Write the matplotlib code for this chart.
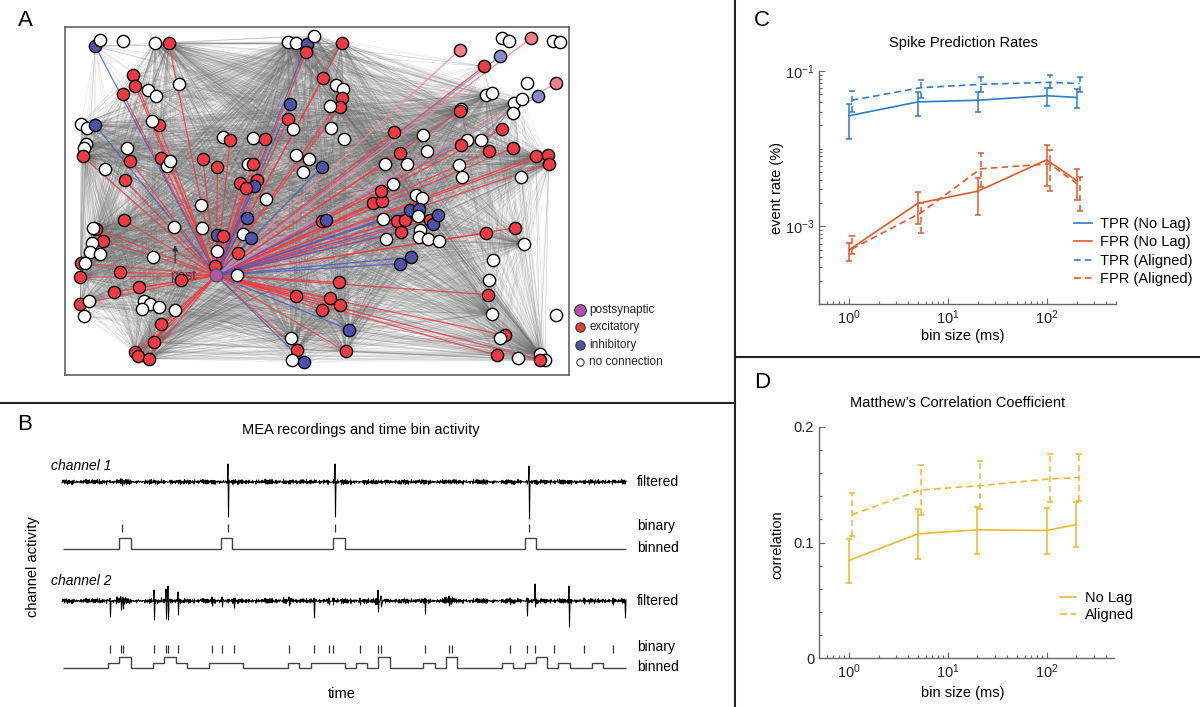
import numpy as np
import matplotlib
matplotlib.use('Agg')
import matplotlib.pyplot as plt
from matplotlib.collections import LineCollection
from matplotlib.lines import Line2D
from matplotlib.ticker import LogLocator, NullFormatter, FixedLocator, MultipleLocator

plt.rcParams['font.family'] = ['Liberation Sans', 'DejaVu Sans']
plt.rcParams['mathtext.fontset'] = 'custom'
plt.rcParams['mathtext.rm'] = 'Liberation Sans'
plt.rcParams['mathtext.it'] = 'Liberation Sans:italic'

# ---------------- DATA ----------------
# Panel C / D : bin sizes (ms)
bin_sizes = [1, 5, 20, 100, 200]
tpr_nolag = [0.0265, 0.040, 0.042, 0.048, 0.0457]
tpr_nolag_lo = [0.0133, 0.0265, 0.030, 0.0357, 0.0335]
tpr_nolag_hi = [0.038, 0.054, 0.054, 0.060, 0.058]
tpr_align = [0.042, 0.061, 0.0673, 0.0715, 0.069]
tpr_align_lo = [0.030, 0.045, 0.054, 0.060, 0.053]
tpr_align_hi = [0.0557, 0.0766, 0.083, 0.088, 0.083]
fpr_nolag = [0.000495, 0.00198, 0.00283, 0.00718, 0.00388]
fpr_nolag_lo = [0.00036, 0.00107, 0.00141, 0.00328, 0.00219]
fpr_nolag_hi = [0.00061, 0.0028, 0.0042, 0.0111, 0.00555]
fpr_align = [0.00051, 0.00149, 0.0055, 0.00637, 0.00335]
fpr_align_lo = [0.00044, 0.00082, 0.00318, 0.00283, 0.00159]
fpr_align_hi = [0.00074, 0.0020, 0.00883, 0.00975, 0.00429]
legend_C = ['TPR (No Lag)', 'FPR (No Lag)', 'TPR (Aligned)', 'FPR (Aligned)']

mcc_nolag = [0.0844, 0.1075, 0.111, 0.1104, 0.1156]
mcc_nolag_lo = [0.0648, 0.0853, 0.0899, 0.0899, 0.096]
mcc_nolag_hi = [0.1032, 0.1288, 0.131, 0.1303, 0.1354]
mcc_align = [0.1239, 0.1455, 0.1493, 0.155, 0.1562]
mcc_align_lo = [0.1052, 0.1242, 0.1291, 0.1349, 0.1363]
mcc_align_hi = [0.1427, 0.1671, 0.1703, 0.1764, 0.1767]
legend_D = ['No Lag', 'Aligned']

# Panel B : spike times (time axis in picture units), amplitudes
ch1_spike_t = [122, 228, 335, 529]
ch1_spike_up = [3, 18, 18, 16]
ch1_spike_down = [4, 35, 35, 37]
ch1_burst_t = [122, 300, 150]
ch1_burst_amp = [3.5, 3.0, 3.0]
ch1_binary = [122, 228, 335, 529]
ch1_binned = [0,0,0,0,0,1,0,0,0,0, 0,0,0,0,1,0,0,0,0,0, 0,0,0,0,1,0,0,0,0,0,
              0,0,0,0,0,0,0,0,0,0, 0,1,0,0,0,0,0,0,0,0]

ch2_spike_t = [110, 121, 123, 154, 166, 168, 178, 212, 222, 234, 289, 314, 329, 333,
               360, 378, 381, 425, 449, 510, 527, 535, 569, 584, 613, 625]
ch2_spike_up = [3, 4, 4, 11, 12, 15, 9, 4, 4, 3, 4, 3, 3, 3, 3, 11, 5, 3, 5, 3, 3, 17, 15, 3, 3, 0]
ch2_spike_down = [16, 9, 8, 19, 18, 19, 14, 5, 6, 7, 5, 17, 4, 4, 4, 11, 6, 13, 5, 4, 15, 6, 26, 3, 4, 17]
ch2_burst_t = [121, 166, 288, 380, 449, 530]
ch2_burst_amp = [5, 3.5, 4, 5, 5, 3.5]
ch2_binary = [110, 121, 123, 154, 166, 168, 178, 212, 222, 234, 289, 314, 329, 333, 360,
              378, 381, 425, 449, 452, 510, 527, 535, 554, 584, 613]
ch2_binned = [0,0,0,0,1,2,0,0,1,2, 1,0,0,1,1,1,0,0,0,0, 1,0,1,1,1,0,1,0,2,0,
              0,0,1,0,2,0,0,0,0,1, 0,1,2,0,1,0,0,1,0,0]

# hand-read texture of the filtered-signal noise band
noise_a = [0.3,-0.8,0.5,1.0,-0.4,-1.0,0.7,0.1,-0.6,0.9,-0.2,-0.9,0.4,0.8,-0.5,0.2,
           -0.7,1.0,-0.3,0.6,-1.0,0.5,0.0,-0.6,0.9,-0.4,0.3,-0.8,0.7,-0.1,0.6]
noise_b = [-0.5,0.4,0.9,-0.7,0.2,-0.3,0.8,-0.9,0.1,0.6,-0.4,-0.8,0.5,0.3,-0.6,1.0,
           -0.2,-0.5,0.7,0.0,-0.9,0.4,0.6]

# Panel A : network nodes (map coordinates) and type
node_x = [105,118,188,285,325,683,708,740,762,738,845,
          1200,1328,1348,1415,1480,1500,1320,1272,1490,1402,1435,
          218,225,188,262,288,355,790,828,850,845,840,810,
          690,685,700,812,853,1280,1297,1362,1388,1360,1205,1200,
          1328,1002,1088,1222,1265,1203,1288,1360,1428,1465,1468,
          1100,1020,1040,975,1198,1208,1385,1000,
          63,80,105,78,70,67,200,135,210,193,295,275,302,320,330,
          488,510,578,615,428,472,565,578,707,748,730,787,
          590,582,540,558,618,423,560,548,572,472,488,535,465,
          530,470,340,425,192,107,97,127,95,90,118,278,
          62,75,60,178,363,160,235,60,85,72,250,270,295,245,343,302,
          282,225,232,265,692,710,695,733,857,868,785,810,840,707,837,
          785,798,940,965,963,1068,1085,970,1010,1035,1022,1050,1078,1075,
          1110,1120,1133,1080,1078,1105,1138,978,1020,1052,1280,
          1365,1392,1300,1288,1285,1297,1488,1335,1320,1313,1375,1440,1455,1440]
node_y = [80,60,65,70,70,67,70,73,48,98,70,
          90,55,63,55,65,67,110,140,190,190,230,
          165,198,222,210,228,192,175,195,207,235,263,260,
          253,297,327,325,358,225,220,250,238,280,268,275,
          328,338,345,362,362,375,395,385,410,405,433,
          395,400,432,433,435,473,472,493,
          313,325,317,373,385,410,385,447,423,482,317,305,415,440,425,
          352,362,355,358,418,442,433,432,405,418,458,441,
          480,498,490,505,537,555,595,643,656,645,648,700,740,
          765,695,622,625,602,628,625,663,670,698,703,712,
          730,730,773,758,780,817,803,853,843,890,845,853,862,868,870,913,
          968,997,1010,1017,955,990,1022,1028,995,930,870,835,855,830,788,
          605,600,550,545,513,525,535,597,605,600,638,570,567,590,
          600,612,585,632,652,657,665,658,732,713,640,
          625,673,720,782,825,882,887,947,955,1007,1015,1002,1022,1020]
node_kind = ("INNNENNINEE" "eNNeNNiEeNi" "EEENNNENNEEN" "IENNNNNNNNNE" "EENNNEEEEEE"
             "NENNNNNN" "NNINNENNEEENENN" "NENEEENENNNI" "EIEENNINIIEEE"
             "NNNNEENENNNN" "ENEEEEEENNNNNNNE" "EEEENENIEIEEEEE" "EIEEENNNEEEIIN"
             "EIINNNNNIIE" "ENNNENNENENNNE")
post_x, post_y = 468, 767
hub_x = [285,325,683,708,740,762,845,63,78,67,107,95,62,60,60,225,265,282,692,710,
         857,1428,1468,1392,1362,1280,1440,1455,1088,840,1205,868,1297]
hub_y = [70,70,67,70,73,48,70,313,373,410,628,670,730,773,853,997,1017,968,955,990,
         995,410,433,673,250,225,1002,1022,345,263,268,930,882]
isolated_x = [118,188,1328,1348,1480,1500,1402,1488]
isolated_y = [60,65,55,63,65,67,190,887]
legend_A = ['postsynaptic', 'excitatory', 'inhibitory', 'no connection']

# ---------------- FIGURE ----------------
W, H = 1200, 707
fig = plt.figure(figsize=(12, 7.07), dpi=100)


def px_axes(x0, y0, x1, y1, **kw):
    return fig.add_axes([x0 / W, 1 - y1 / H, (x1 - x0) / W, (y1 - y0) / H], **kw)


BLUE = '#2F7CC6'
ORANGE = '#E4592B'
YELLOW = '#F0B730'
DASH = (0, (4, 2.5))

# ---------- Panel A ----------
axA = px_axes(65, 27, 569, 375)
axA.set_xlim(14, 1528)
axA.set_ylim(1066, 22)
axA.set_xticks([]); axA.set_yticks([])
for s in axA.spines.values():
    s.set_color('#555555'); s.set_linewidth(1.1)

nx = np.array(node_x, float); ny = np.array(node_y, float)
kinds = np.array(list(node_kind))
hub_idx = [int(np.argmin((nx - a) ** 2 + (ny - b) ** 2)) for a, b in zip(hub_x, hub_y)]
iso_idx = set(int(np.argmin((nx - a) ** 2 + (ny - b) ** 2)) for a, b in zip(isolated_x, isolated_y))
targets = [j for j in range(len(nx)) if kinds[j] not in ('e', 'i') and j not in iso_idx]
segs = []
for h in hub_idx:
    for j in targets:
        if j != h:
            segs.append([(nx[h], ny[h]), (nx[j], ny[j])])
axA.add_collection(LineCollection(segs, colors='#707070', linewidths=0.45, alpha=0.14, zorder=1))

col_line = {'E': ('#F23A42', 0.85), 'e': ('#F48A90', 0.9), 'I': ('#4F5CC0', 0.85), 'i': ('#8E95DA', 0.9)}
for k, (c, a) in col_line.items():
    sel = np.where(kinds == k)[0]
    s2 = [[(post_x, post_y), (nx[j], ny[j])] for j in sel]
    axA.add_collection(LineCollection(s2, colors=c, linewidths=0.9, alpha=a, zorder=2))

fill = {'N': 'white', 'E': '#EC3B42', 'e': '#F07F87', 'I': '#4C53A8', 'i': '#878CD0'}
for j in range(len(nx)):
    axA.scatter(nx[j], ny[j], s=78, c=fill[kinds[j]], edgecolors='black', linewidths=1.0,
                zorder=3, clip_on=False)
axA.scatter(post_x, post_y, s=85, c='#B352A8', edgecolors='#555555', linewidths=1.0, zorder=4)
axA.annotate('', xy=(345, 668), xytext=(345, 738),
             arrowprops=dict(arrowstyle='-|>', color='#333333', lw=0.9, mutation_scale=8), zorder=5)
axA.text(368, 768, 'post', fontsize=10, color='#444444', ha='center', va='center', zorder=2.5)

# ---------- Panel B ----------
axB = px_axes(0, 404, 734, 707)
axB.set_xlim(0, 734)
axB.set_ylim(707, 404)
axB.axis('off')

T0, T1 = 62, 626
BIN_X0, BIN_W, BIN_H = 63, 11.26, 11


def filtered(base, st, su, sd, bt, ba, amp0):
    t = np.arange(T0, T1 + 0.25, 0.5)
    idx = np.arange(len(t))
    amp = np.full(len(t), amp0)
    for c, a in zip(bt, ba):
        amp = np.where(np.abs(t - c) < 5, np.maximum(amp, a), amp)
    n = (np.take(noise_a, idx % len(noise_a)) + np.take(noise_b, idx % len(noise_b))) / 2 * amp
    y = n.copy()
    for c, u, d in zip(st, su, sd):
        i = min(int(round((c - T0) / 0.5)), len(t) - 2)
        y[i] = u
        y[i + 1] = -d
    return t, base - y


def draw_channel(name, base_f, base_bin, bin_top, st, su, sd, bt, ba, binary, binned, ylab):
    t, y = filtered(base_f, st, su, sd, bt, ba, 2.8)
    axB.plot(t, y, color='black', lw=0.75)
    axB.vlines(binary, bin_top, bin_top + 8, color='#333333', lw=0.9)
    vals = base_bin - np.array(binned, float) / max(binned) * BIN_H
    edges = BIN_X0 + BIN_W * np.arange(len(binned) + 1)
    axB.stairs(vals, edges, baseline=None, color='#444444', lw=1.0)
    axB.text(51, ylab, name, fontsize=10, style='italic', ha='left', va='center')
    axB.text(637, base_f, 'filtered', fontsize=10, ha='left', va='center')
    axB.text(637, bin_top + 2, 'binary', fontsize=10, ha='left', va='center')
    axB.text(637, base_bin - 1, 'binned', fontsize=10, ha='left', va='center')


draw_channel('channel 1', 482, 549, 524, ch1_spike_t, ch1_spike_up, ch1_spike_down,
             ch1_burst_t, ch1_burst_amp, ch1_binary, ch1_binned, 466)
draw_channel('channel 2', 601, 668, 645, ch2_spike_t, ch2_spike_up, ch2_spike_down,
             ch2_burst_t, ch2_burst_amp, ch2_binary, ch2_binned, 581)
axB.text(361, 430, 'MEA recordings and time bin activity', fontsize=10.5, ha='center', va='center')
axB.text(33, 567, 'channel activity', fontsize=10.5, rotation=90, ha='center', va='center')
axB.text(342, 694, 'time', fontsize=10.5, ha='center', va='center')


# ---------- Panel C / D helpers ----------
def style_axes(ax):
    for s in ['top', 'right']:
        ax.spines[s].set_visible(False)
    for s in ['left', 'bottom']:
        ax.spines[s].set_color('#666666'); ax.spines[s].set_linewidth(1.0)
    ax.tick_params(which='both', direction='in', color='#666666', labelcolor='#222222',
                   labelsize=10.5, width=0.8)
    ax.tick_params(which='major', length=4)
    ax.tick_params(which='minor', length=2)


def ebar(ax, x, y, lo, hi, color, dashed):
    y = np.array(y); lo = np.array(lo); hi = np.array(hi)
    ls = DASH if dashed else '-'
    cont = ax.errorbar(x, y, yerr=[y - lo, hi - y], color=color, lw=1.2, ls=ls,
                       capsize=2.3, capthick=1.1, elinewidth=1.1)
    if dashed:
        for c in cont[2]:
            c.set_linestyle(DASH)
    return cont


bx = np.array(bin_sizes, float)
dodge = 1.07

# ---------- Panel C ----------
axC = px_axes(819, 71, 1116, 304)
axC.set_xscale('log'); axC.set_yscale('log')
style_axes(axC)
ebar(axC, bx, tpr_nolag, tpr_nolag_lo, tpr_nolag_hi, BLUE, False)
ebar(axC, bx, fpr_nolag, fpr_nolag_lo, fpr_nolag_hi, ORANGE, False)
ebar(axC, bx * dodge, tpr_align, tpr_align_lo, tpr_align_hi, BLUE, True)
ebar(axC, bx * dodge, fpr_align, fpr_align_lo, fpr_align_hi, ORANGE, True)
axC.set_xlim(0.5, 500)
axC.set_ylim(1e-4, 1e-1)
axC.yaxis.set_major_locator(FixedLocator([1e-3, 1e-1]))
axC.yaxis.set_minor_locator(LogLocator(base=10, subs=np.arange(1, 10), numticks=20))
axC.yaxis.set_minor_formatter(NullFormatter())
axC.xaxis.set_major_locator(FixedLocator([1, 10, 100]))
axC.xaxis.set_minor_locator(LogLocator(base=10, subs=np.arange(2, 10), numticks=20))
axC.xaxis.set_minor_formatter(NullFormatter())
axC.set_xticklabels(['$10^{0}$', '$10^{1}$', '$10^{2}$'])
axC.set_yticklabels(['$10^{-3}$', '$10^{-1}$'])
hC = [Line2D([], [], color=BLUE, lw=1.2), Line2D([], [], color=ORANGE, lw=1.2),
      Line2D([], [], color=BLUE, lw=1.2, ls=DASH), Line2D([], [], color=ORANGE, lw=1.2, ls=DASH)]
axC.legend(hC, legend_C, loc='upper left', bbox_to_anchor=(1074 / W, 1 - 217 / H),
           bbox_transform=fig.transFigure, frameon=False, borderpad=0, borderaxespad=0,
           handlelength=1.25, handletextpad=0.55, labelspacing=0.3, fontsize=10.5)

# ---------- Panel D ----------
axD = px_axes(819, 427, 1114, 658)
axD.set_xscale('log')
style_axes(axD)
ebar(axD, bx, mcc_nolag, mcc_nolag_lo, mcc_nolag_hi, YELLOW, False)
ebar(axD, bx * dodge, mcc_align, mcc_align_lo, mcc_align_hi, YELLOW, True)
axD.set_xlim(0.5, 480)
axD.set_ylim(0, 0.2)
axD.yaxis.set_major_locator(FixedLocator([0, 0.1, 0.2]))
axD.yaxis.set_minor_locator(MultipleLocator(0.02))
axD.set_yticklabels(['0', '0.1', '0.2'])
axD.xaxis.set_major_locator(FixedLocator([1, 10, 100]))
axD.xaxis.set_minor_locator(LogLocator(base=10, subs=np.arange(2, 10), numticks=20))
axD.xaxis.set_minor_formatter(NullFormatter())
axD.set_xticklabels(['$10^{0}$', '$10^{1}$', '$10^{2}$'])
hD = [Line2D([], [], color=YELLOW, lw=1.2), Line2D([], [], color=YELLOW, lw=1.2, ls=DASH)]
axD.legend(hD, legend_D, loc='upper left', bbox_to_anchor=(1060 / W, 1 - 591 / H),
           bbox_transform=fig.transFigure, frameon=False, borderpad=0, borderaxespad=0,
           handlelength=1.1, handletextpad=0.6, labelspacing=0.22, fontsize=10.5)

# ---------- overlay: labels, dividers, legend A ----------
ov = px_axes(0, 0, W, H, zorder=10)
ov.set_xlim(0, W); ov.set_ylim(H, 0); ov.axis('off')
ov.plot([735, 735], [0, H], color='#222222', lw=1.5)
ov.plot([0, 735], [403, 403], color='#222222', lw=1.5)
ov.plot([735, W], [357, 357], color='#222222', lw=1.5)
for lab, (x, y) in zip('ABCD', [(25, 20), (25, 425), (762, 20), (762, 382)]):
    ov.text(x, y, lab, fontsize=16, ha='center', va='center')
ov.text(963, 43, 'Spike Prediction Rates', fontsize=10.5, ha='center', va='center')
ov.text(963, 336, 'bin size (ms)', fontsize=10.5, ha='center', va='center')
ov.text(777, 188, 'event rate (%)', fontsize=10.5, rotation=90, ha='center', va='center')
ov.text(958, 403, "Matthew\u2019s Correlation Coefficient", fontsize=10.5, ha='center', va='center')
ov.text(963, 693, 'bin size (ms)', fontsize=10.5, ha='center', va='center')
ov.text(777, 545, 'correlation', fontsize=10.5, rotation=90, ha='center', va='center')

legA_fill = ['#B352A8', '#EC3B42', '#4C53A8', 'white']
legA_size = [70, 45, 45, 28]
legA_y = [310, 327, 345, 362]
for lab, f, s, y in zip(legend_A, legA_fill, legA_size, legA_y):
    ov.scatter([580], [y], s=s, c=f, edgecolors='#333333', linewidths=0.8)
    ov.text(589, y, lab, fontsize=8.5, ha='left', va='center', color='#222222')

fig.savefig('out.png', dpi=100)
